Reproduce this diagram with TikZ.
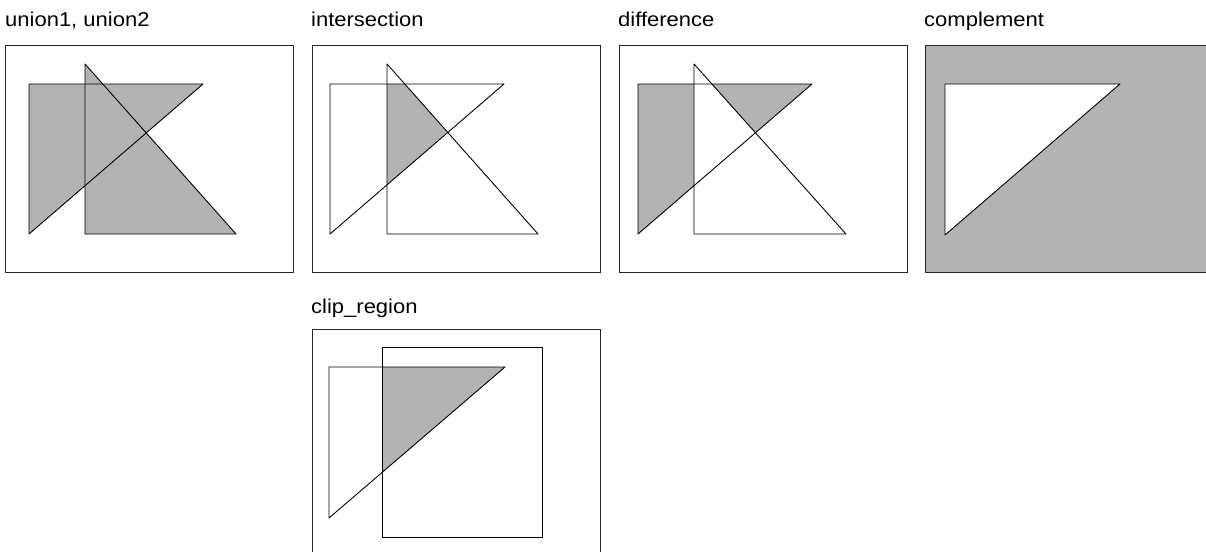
\documentclass[tikz,border=0pt]{standalone}
\usepackage{fontspec}
\setmainfont{Liberation Sans}[FakeStretch=1.1]
\definecolor{regiongray}{RGB}{179,179,179}
\begin{document}
\begin{tikzpicture}[x=1pt,y=-1pt,
  frame/.style={draw=black!85, line width=1pt},
  edge/.style={draw=black, line width=0.9pt, line join=round},
  region/.style={fill=regiongray},
  title/.style={anchor=base west, inner sep=0pt, font=\fontsize{20}{24}\selectfont}]
\useasboundingbox (0,0) rectangle (1206,551);
\clip (0,0) rectangle (1206,551);

% ---------- union1, union2
\node[title] (tunion) at (5,27) {union1, union2};
\draw[frame] (5,46) rectangle (293,272);
\fill[region] (29,84) -- (203,84) -- (29,234) -- cycle;
\fill[region] (85,64) -- (85,234) -- (236,234) -- cycle;
\draw[edge] (29,84) -- (203,84) -- (29,234) -- cycle;
\draw[edge] (85,64) -- (85,234) -- (236,234) -- cycle;

% ---------- intersection
\node[title] (tinter) at (311,27) {intersection};
\draw[frame] (312,46) rectangle (600,272);
\begin{scope}
  \clip (330,84) -- (504,84) -- (330,234) -- cycle;
  \fill[region] (387,64) -- (387,234) -- (538,234) -- cycle;
\end{scope}
\draw[edge] (330,84) -- (504,84) -- (330,234) -- cycle;
\draw[edge] (387,64) -- (387,234) -- (538,234) -- cycle;

% ---------- difference
\node[title] (tdiff) at (618,27) {difference};
\draw[frame] (619,46) rectangle (907,272);
\begin{scope}
  \clip (638,84) -- (812,84) -- (638,234) -- cycle;
  \fill[region, even odd rule] (619,46) rectangle (907,272)
     (694,64) -- (694,234) -- (846,234) -- cycle;
\end{scope}
\draw[edge] (638,84) -- (812,84) -- (638,234) -- cycle;
\draw[edge] (694,64) -- (694,234) -- (846,234) -- cycle;

% ---------- complement
\node[title] (tcomp) at (924,27) {complement};
\fill[region] (925,46) rectangle (1213,272);
\draw[frame] (925,46) rectangle (1213,272);
\fill[white] (945,84) -- (1120,84) -- (945,235) -- cycle;
\draw[edge] (945,84) -- (1120,84) -- (945,235) -- cycle;

% ---------- clip_region
\node[title] (tclip) at (311,313) {clip\_region};
\draw[frame] (312,329) rectangle (600,555);
\begin{scope}
  \clip (329,367) -- (505,367) -- (329,518) -- cycle;
  \fill[region] (382,347) rectangle (542,537);
\end{scope}
\draw[edge] (329,367) -- (505,367) -- (329,518) -- cycle;
\draw[edge] (382,347) rectangle (542,537);
\end{tikzpicture}
\end{document}
